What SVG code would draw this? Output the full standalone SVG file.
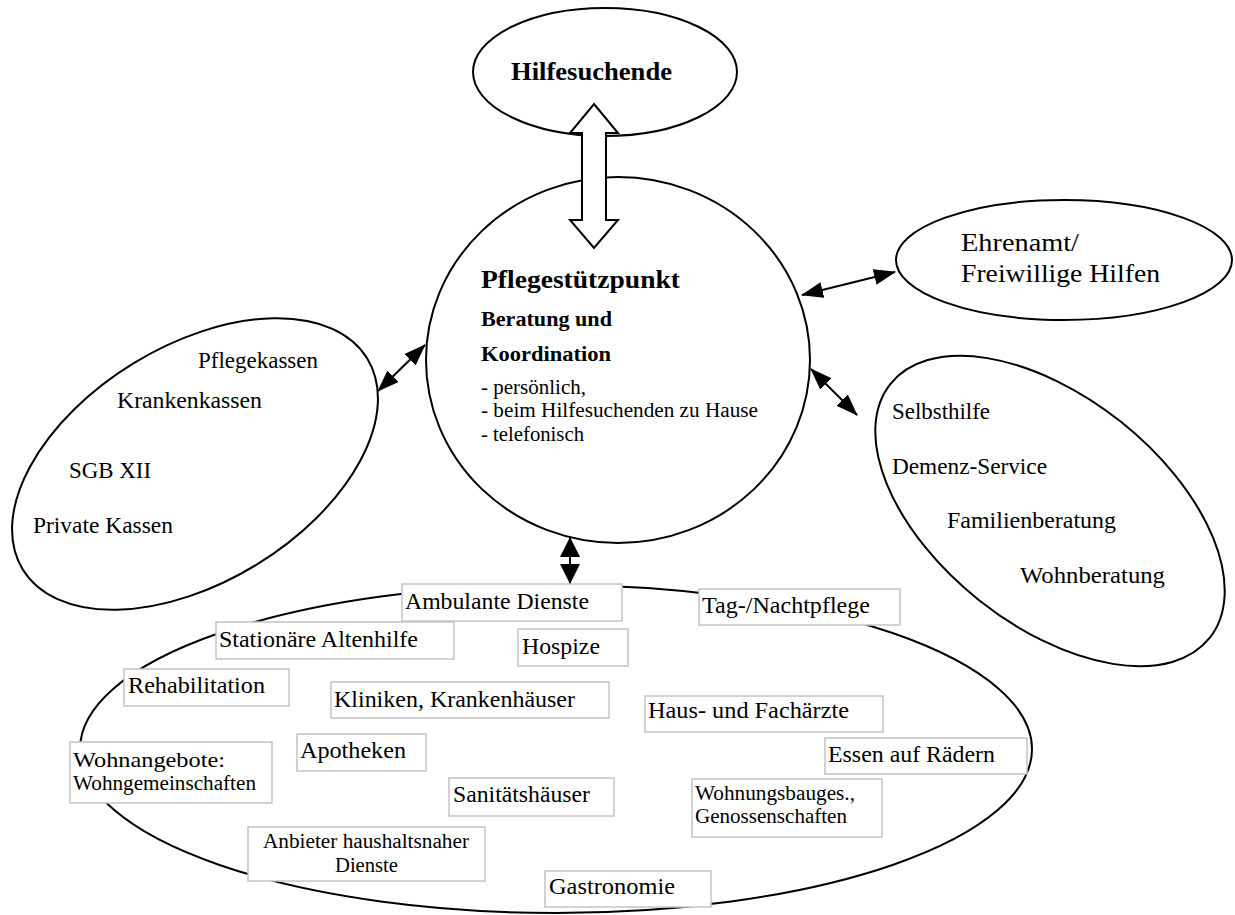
<svg xmlns="http://www.w3.org/2000/svg" width="1235" height="915" viewBox="0 0 1235 915">
<style>
.shape{fill:#fff;stroke:#000;stroke-width:2}
.box{fill:#fff;stroke:#c4c4c4;stroke-width:1.5}
.t{font-family:"Liberation Serif","Times New Roman",serif;fill:#000}
.b{font-weight:bold}
.s23{font-size:23px}
.s20{font-size:20px}
.conn{stroke:#000;stroke-width:2;fill:none}
</style>
<defs>
<marker id="ah" markerUnits="userSpaceOnUse" markerWidth="22" markerHeight="16" refX="21" refY="8" orient="auto-start-reverse">
<path d="M0,0 L22,8 L0,16 Z" fill="#000"/>
</marker>
<marker id="ahv" markerUnits="userSpaceOnUse" markerWidth="20" markerHeight="20" refX="19" refY="10" orient="auto-start-reverse">
<path d="M0,0 L20,10 L0,20 Z" fill="#000"/>
</marker>
</defs>
<rect width="1235" height="915" fill="#fff"/>

<g id="bottom-ellipse">
<ellipse class="shape" cx="556" cy="749" rx="476" ry="164"/>
</g>

<g id="hilfesuchende">
<ellipse class="shape" cx="605" cy="72" rx="132" ry="64"/>
<text class="t b" x="511" y="80" font-size="26" textLength="161" lengthAdjust="spacingAndGlyphs">Hilfesuchende</text>
</g>

<g id="pflegestuetzpunkt">
<ellipse class="shape" cx="618" cy="360" rx="192" ry="183"/>
<text class="t b" x="481" y="288" font-size="26" textLength="199" lengthAdjust="spacingAndGlyphs">Pflegestützpunkt</text>
<text class="t b" x="481" y="326" font-size="22" textLength="131" lengthAdjust="spacingAndGlyphs">Beratung und</text>
<text class="t b" x="481" y="361" font-size="22" textLength="130" lengthAdjust="spacingAndGlyphs">Koordination</text>
<text class="t" x="481" y="394" font-size="20" textLength="105" lengthAdjust="spacingAndGlyphs">- persönlich,</text>
<text class="t" x="481" y="417" font-size="20" textLength="277" lengthAdjust="spacingAndGlyphs">- beim Hilfesuchenden zu Hause</text>
<text class="t" x="481" y="441" font-size="20" textLength="103" lengthAdjust="spacingAndGlyphs">- telefonisch</text>
</g>

<g id="kassen">
<ellipse class="shape" cx="195" cy="464" rx="202" ry="118" transform="rotate(-31.5 195 464)"/>
<text class="t s23" x="198" y="368" textLength="120" lengthAdjust="spacingAndGlyphs">Pflegekassen</text>
<text class="t s23" x="117" y="408" textLength="145" lengthAdjust="spacingAndGlyphs">Krankenkassen</text>
<text class="t s23" x="69" y="478" textLength="82" lengthAdjust="spacingAndGlyphs">SGB XII</text>
<text class="t s23" x="33" y="533" textLength="140" lengthAdjust="spacingAndGlyphs">Private Kassen</text>
</g>

<g id="ehrenamt">
<ellipse class="shape" cx="1064" cy="260" rx="168" ry="60"/>
<text class="t" x="961" y="251" font-size="26" textLength="118" lengthAdjust="spacingAndGlyphs">Ehrenamt/</text>
<text class="t" x="961" y="282" font-size="26" textLength="199" lengthAdjust="spacingAndGlyphs">Freiwillige Hilfen</text>
</g>

<g id="selbsthilfe">
<ellipse class="shape" cx="1050" cy="511" rx="204" ry="114" transform="rotate(38.5 1050 511)"/>
<text class="t s23" x="892" y="419" textLength="98" lengthAdjust="spacingAndGlyphs">Selbsthilfe</text>
<text class="t s23" x="892" y="474" textLength="155" lengthAdjust="spacingAndGlyphs">Demenz-Service</text>
<text class="t s23" x="947" y="528" textLength="169" lengthAdjust="spacingAndGlyphs">Familienberatung</text>
<text class="t s23" x="1020" y="583" textLength="145" lengthAdjust="spacingAndGlyphs">Wohnberatung</text>
</g>

<g id="ambulante-dienste">
<rect class="box" x="402" y="584" width="220" height="37"/>
<text class="t s23" x="405" y="609" textLength="184" lengthAdjust="spacingAndGlyphs">Ambulante Dienste</text>
</g>
<g id="tag-nachtpflege">
<rect class="box" x="699" y="589" width="201" height="36"/>
<text class="t s23" x="702" y="613" textLength="168" lengthAdjust="spacingAndGlyphs">Tag-/Nachtpflege</text>
</g>
<g id="stationaere-altenhilfe">
<rect class="box" x="216" y="622" width="238" height="37"/>
<text class="t s23" x="219" y="647" textLength="199" lengthAdjust="spacingAndGlyphs">Stationäre Altenhilfe</text>
</g>
<g id="hospize">
<rect class="box" x="518" y="629" width="110" height="37"/>
<text class="t s23" x="522" y="654" textLength="78" lengthAdjust="spacingAndGlyphs">Hospize</text>
</g>
<g id="rehabilitation">
<rect class="box" x="124" y="669" width="165" height="37"/>
<text class="t s23" x="128" y="693" textLength="137" lengthAdjust="spacingAndGlyphs">Rehabilitation</text>
</g>
<g id="kliniken">
<rect class="box" x="331" y="682" width="278" height="36"/>
<text class="t s23" x="334" y="707" textLength="241" lengthAdjust="spacingAndGlyphs">Kliniken, Krankenhäuser</text>
</g>
<g id="haus-fachaerzte">
<rect class="box" x="645" y="696" width="238" height="36"/>
<text class="t s23" x="648" y="718" textLength="201" lengthAdjust="spacingAndGlyphs">Haus- und Fachärzte</text>
</g>
<g id="wohnangebote">
<rect class="box" x="70" y="742" width="202" height="61"/>
<text class="t" x="73" y="767" font-size="22" textLength="152" lengthAdjust="spacingAndGlyphs">Wohnangebote:</text>
<text class="t s20" x="73" y="790" textLength="183" lengthAdjust="spacingAndGlyphs">Wohngemeinschaften</text>
</g>
<g id="apotheken">
<rect class="box" x="297" y="734" width="129" height="37"/>
<text class="t s23" x="300" y="758" textLength="106" lengthAdjust="spacingAndGlyphs">Apotheken</text>
</g>
<g id="essen-auf-raedern">
<rect class="box" x="825" y="738" width="202" height="36"/>
<text class="t s23" x="828" y="762" textLength="167" lengthAdjust="spacingAndGlyphs">Essen auf Rädern</text>
</g>
<g id="sanitaetshaeuser">
<rect class="box" x="449" y="778" width="165" height="38"/>
<text class="t s23" x="453" y="802" textLength="137" lengthAdjust="spacingAndGlyphs">Sanitätshäuser</text>
</g>
<g id="wohnungsbau">
<rect class="box" x="692" y="779" width="190" height="58"/>
<text class="t s20" x="695" y="800" textLength="160" lengthAdjust="spacingAndGlyphs">Wohnungsbauges.,</text>
<text class="t s20" x="695" y="823" textLength="152" lengthAdjust="spacingAndGlyphs">Genossenschaften</text>
</g>
<g id="anbieter">
<rect class="box" x="248" y="827" width="237" height="54"/>
<text class="t s20" x="263" y="848" textLength="206" lengthAdjust="spacingAndGlyphs">Anbieter haushaltsnaher</text>
<text class="t s20" x="335" y="872" textLength="63" lengthAdjust="spacingAndGlyphs">Dienste</text>
</g>
<g id="gastronomie">
<rect class="box" x="545" y="871" width="166" height="36"/>
<text class="t s23" x="549" y="894" textLength="126" lengthAdjust="spacingAndGlyphs">Gastronomie</text>
</g>

<g id="connectors">
<path class="shape" d="M594,104 L618,133 L606,133 L606,220 L618,220 L594,248 L570,220 L582,220 L582,133 L570,133 Z"/>
<line class="conn" x1="378" y1="391" x2="425" y2="345" marker-start="url(#ah)" marker-end="url(#ah)"/>
<line class="conn" x1="802" y1="295" x2="895" y2="272" marker-start="url(#ah)" marker-end="url(#ah)"/>
<line class="conn" x1="811" y1="369" x2="857" y2="415" marker-start="url(#ah)" marker-end="url(#ah)"/>
<line class="conn" x1="570" y1="538" x2="570" y2="583" marker-start="url(#ahv)" marker-end="url(#ahv)"/>
</g>
</svg>
